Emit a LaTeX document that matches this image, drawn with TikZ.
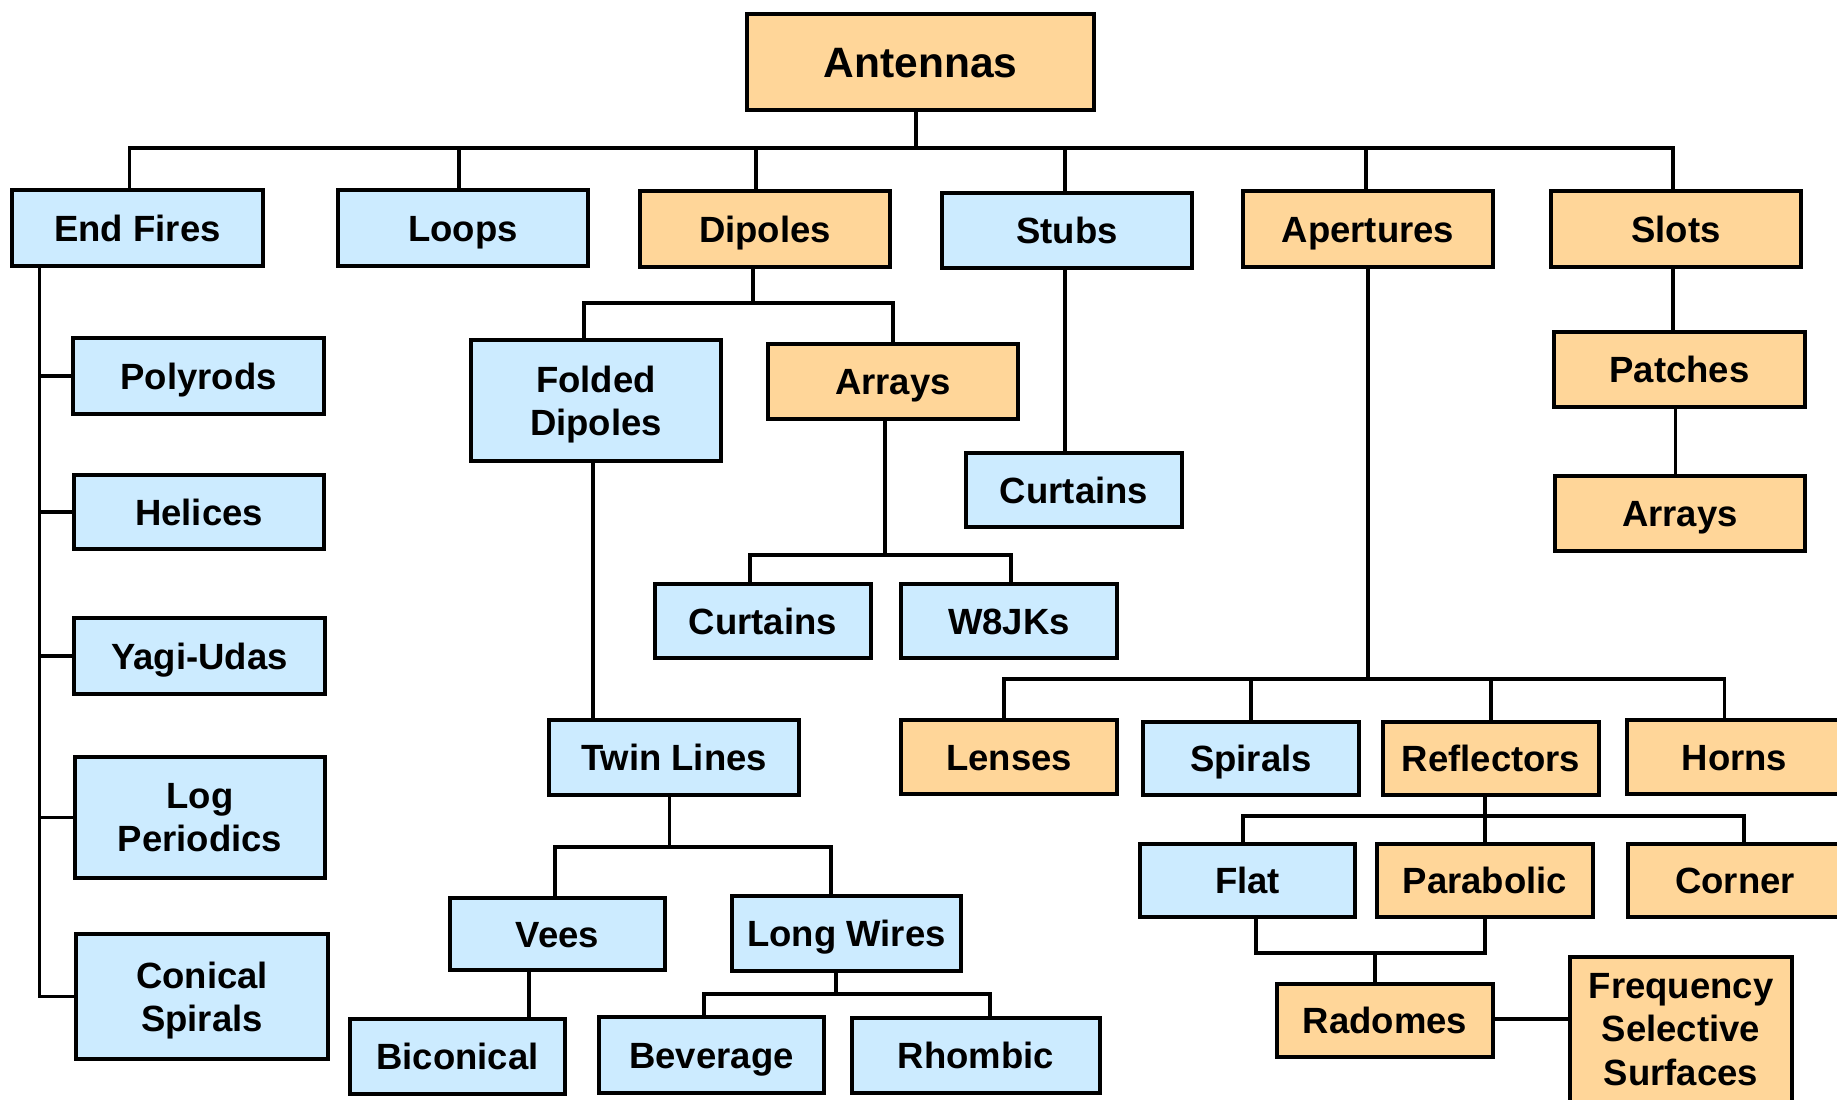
\documentclass[tikz,border=0pt]{standalone}
\usepackage{fontspec}
\setmainfont{Liberation Sans}
\definecolor{bluefill}{RGB}{204,235,255}
\definecolor{orangefill}{RGB}{255,214,153}
\tikzset{
  boxbase/.style={draw=black, line width=1.6pt, inner sep=0pt, outer sep=0pt, align=center,
    font=\fontsize{14.6}{17.3}\selectfont\bfseries},
  oneline/.style={text height=10.45pt, text depth=0pt},
  bluebox/.style={boxbase, fill=bluefill},
  orangebox/.style={boxbase, fill=orangefill},
  conn/.style={draw=black, line width=1.45pt, line cap=rect}
}
\newcommand\nodp[1]{\raisebox{0pt}[\height][0pt]{#1}}
\newcommand\bx[7]{% name x0 x1 y0 y1 style text
  \pgfmathsetmacro\bw{(#3-#2-4)*0.4}%
  \pgfmathsetmacro\bh{(#5-#4-4)*0.4}%
  \node[#6, minimum width=\bw pt, minimum height=\bh pt] (#1) at ({(#2+#3)/2},{(#4+#5)/2}) {#7};}
\begin{document}
\begin{tikzpicture}[x=0.4pt,y=-0.4pt]
\useasboundingbox (0,0) rectangle (1837,1099);
% bus levels
\coordinate (b1) at (0,148);
\coordinate (b2) at (0,303);
\coordinate (b7) at (0,555);
\coordinate (b5) at (0,679);
\coordinate (b12) at (0,816);
\coordinate (b9) at (0,847);
\coordinate (b13) at (0,953);
\coordinate (b11) at (0,994);
% boxes
\bx{ant}{745}{1096}{12}{112}{orangebox, font=\fontsize{17}{20}\selectfont\bfseries, text height=12.2pt, text depth=0pt}{Antennas}
\bx{ef}{10}{265}{188}{268}{bluebox,oneline}{End Fires}
\bx{loops}{336}{590}{188}{268}{bluebox,oneline}{Loops}
\bx{dip}{638}{892}{189}{269}{orangebox,oneline}{Dipoles}
\bx{stubs}{940}{1194}{191}{270}{bluebox,oneline}{Stubs}
\bx{apert}{1241}{1495}{189}{269}{orangebox,oneline}{Apertures}
\bx{slots}{1549}{1803}{189}{269}{orangebox,oneline}{Slots}
\bx{poly}{71}{326}{336}{416}{bluebox,oneline}{Polyrods}
\bx{hel}{72}{326}{473}{551}{bluebox,oneline}{Helices}
\bx{yagi}{72}{327}{616}{696}{bluebox,oneline}{Yagi-Udas}
\bx{logp}{73}{327}{755}{880}{bluebox}{Log\\Periodics}
\bx{conic}{74}{330}{932}{1061}{bluebox}{Conical\\\nodp{Spirals}}
\bx{fold}{469}{723}{338}{463}{bluebox}{Folded\\\nodp{Dipoles}}
\bx{arrA}{766}{1020}{342}{421}{orangebox,oneline}{Arrays}
\bx{curtA}{964}{1184}{451}{529}{bluebox,oneline}{Curtains}
\bx{patch}{1552}{1807}{330}{409}{orangebox,oneline}{Patches}
\bx{arrB}{1553}{1807}{474}{553}{orangebox,oneline}{Arrays}
\bx{curtB}{653}{873}{582}{660}{bluebox,oneline}{Curtains}
\bx{w8jk}{899}{1119}{582}{660}{bluebox,oneline}{W8JKs}
\bx{twin}{547}{801}{718}{797}{bluebox,oneline}{Twin Lines}
\bx{vees}{448}{667}{896}{972}{bluebox,oneline}{Vees}
\bx{lwire}{730}{963}{894}{973}{bluebox,oneline}{Long Wires}
\bx{bicon}{348}{567}{1017}{1096}{bluebox,oneline}{Biconical}
\bx{bever}{597}{826}{1015}{1095}{bluebox,oneline}{Beverage}
\bx{rhomb}{850}{1102}{1016}{1095}{bluebox,oneline}{Rhombic}
\bx{lens}{899}{1119}{718}{796}{orangebox,oneline}{Lenses}
\bx{spir}{1141}{1361}{720}{797}{bluebox,oneline}{Spirals}
\bx{refl}{1381}{1601}{720}{797}{orangebox,oneline}{Reflectors}
\bx{horn}{1625}{1844}{718}{796}{orangebox,oneline}{Horns}
\bx{flat}{1138}{1357}{842}{919}{bluebox,oneline}{Flat}
\bx{parab}{1375}{1595}{842}{919}{orangebox,oneline}{Parabolic}
\bx{corner}{1626}{1844}{842}{919}{orangebox,oneline}{Corner}
\bx{radome}{1275}{1495}{982}{1059}{orangebox,oneline}{Radomes}
\bx{fss}{1568}{1794}{955}{1104}{orangebox}{Frequency\\Selective\\Surfaces}
% ---------- connectors ----------
% Antennas
\draw[conn] ([xshift=-1.8pt]ant.south) -- ([xshift=-1.8pt]ant.south |- b1);
\draw[conn] ([xshift=-3.2pt]ef.north) |- ([xshift=-1.2pt]slots.north |- b1) -- ([xshift=-1.2pt]slots.north);
\draw[conn] ([xshift=-1.6pt]loops.north) -- ([xshift=-1.6pt]loops.north |- b1);
\draw[conn] ([xshift=-3.6pt]dip.north) -- ([xshift=-3.6pt]dip.north |- b1);
\draw[conn] ([xshift=-0.8pt]stubs.north) -- ([xshift=-0.8pt]stubs.north |- b1);
\draw[conn] ([xshift=-0.8pt]apert.north) -- ([xshift=-0.8pt]apert.north |- b1);
% End Fires
\coordinate (efl) at ([xshift=-39.2pt]ef.south);
\draw[conn] (efl) |- (conic.west);
\draw[conn] (efl |- poly.west) -- (poly.west);
\draw[conn] (efl |- hel.west) -- (hel.west);
\draw[conn] (efl |- yagi.west) -- (yagi.west);
\draw[conn] (efl |- logp.west) -- (logp.west);
% Dipoles
\draw[conn] ([xshift=-4.8pt]dip.south) -- ([xshift=-4.8pt]dip.south |- b2);
\draw[conn] ([xshift=-4.8pt]fold.north) |- (arrA.north |- b2) -- (arrA.north);
% Stubs
\draw[conn] ([xshift=-0.8pt]stubs.south) -- ([xshift=-0.8pt]stubs.south |- curtA.north);
% Slots
\draw[conn] ([xshift=-1.2pt]slots.south) -- ([xshift=-1.2pt]slots.south |- patch.north);
\draw[conn] ([xshift=-1.6pt]patch.south) -- ([xshift=-1.6pt]patch.south |- arrB.north);
% Arrays (dipoles)
\draw[conn] ([xshift=-3.2pt]arrA.south) -- ([xshift=-3.2pt]arrA.south |- b7);
\draw[conn] ([xshift=-5.2pt]curtB.north) |- ([xshift=0.8pt]w8jk.north |- b7) -- ([xshift=0.8pt]w8jk.north);
% Folded dipoles
\draw[conn] ([xshift=-1.2pt]fold.south) -- ([xshift=-1.2pt]fold.south |- twin.north);
% Twin lines
\draw[conn] ([xshift=-1.8pt]twin.south) -- ([xshift=-1.8pt]twin.south |- b9);
\draw[conn] ([xshift=-1pt]vees.north) |- ([xshift=-6.2pt]lwire.north |- b9) -- ([xshift=-6.2pt]lwire.north);
% Vees
\draw[conn] ([xshift=-11.4pt]vees.south) -- ([xshift=-11.4pt]vees.south |- bicon.north);
% Long wires
\draw[conn] ([xshift=-4.2pt]lwire.south) -- ([xshift=-4.2pt]lwire.south |- b11);
\draw[conn] ([xshift=-3pt]bever.north) |- ([xshift=5.6pt]rhomb.north |- b11) -- ([xshift=5.6pt]rhomb.north);
% Apertures
\draw[conn] (apert.south) -- (apert.south |- b5);
\draw[conn] ([xshift=-2pt]lens.north) |- ([xshift=-4pt]horn.north |- b5) -- ([xshift=-4pt]horn.north);
\draw[conn] (spir.north) -- (spir.north |- b5);
\draw[conn] (refl.north) -- (refl.north |- b5);
% Reflectors
\draw[conn] ([xshift=-2.4pt]refl.south) -- ([xshift=-2.4pt]refl.south |- b12);
\draw[conn] ([xshift=-1.8pt]flat.north) |- ([xshift=3.6pt]corner.north |- b12) -- ([xshift=3.6pt]corner.north);
\draw[conn] (parab.north) -- (parab.north |- b12);
% Flat / Parabolic -> Radomes
\draw[conn] ([xshift=3.4pt]flat.south) |- (parab.south |- b13) -- (parab.south);
\draw[conn] ([xshift=-4pt]radome.north) -- ([xshift=-4pt]radome.north |- b13);
% Radomes -> FSS
\draw[conn] ([yshift=0.6pt]radome.east) -- ([yshift=0.6pt]radome.east -| fss.west);
\end{tikzpicture}
\end{document}
